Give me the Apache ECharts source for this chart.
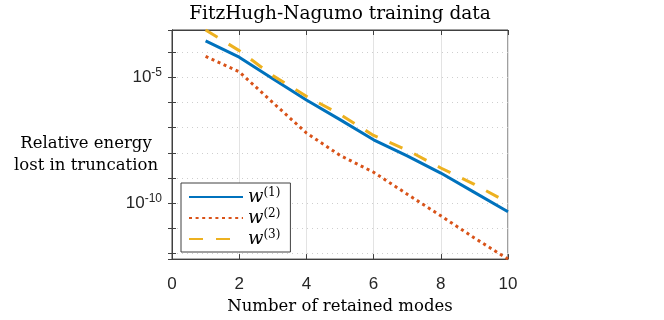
<!DOCTYPE html>
<html>
<head>
<meta charset="utf-8">
<script src="https://cdn.jsdelivr.net/npm/echarts@6/dist/echarts.min.js"></script>
<style>html,body{margin:0;padding:0;background:#fff}#c{width:664px;height:320px}</style>
</head>
<body>
<div id="c"></div>
<script>
// ---- data ----
const modes = [1, 2, 3, 4, 5, 6, 7, 8, 9, 10];
const w1 = [2.82e-4, 6.31e-5, 8.71e-6, 1.26e-6, 2.09e-7, 3.31e-8, 7.59e-9, 1.58e-9, 2.69e-10, 4.57e-11];
const w2 = [6.76e-5, 1.66e-5, 1.0e-6, 6.17e-8, 7.94e-9, 1.70e-9, 2.29e-10, 3.16e-11, 4.17e-12, 6.03e-13];
const w3 = [7.59e-4, 1.15e-4, 1.17e-5, 1.78e-6, 3.39e-7, 4.90e-8, 1.29e-8, 2.51e-9, 5.62e-10, 1.05e-10];
const seriesNames = ['w1', 'w2', 'w3'];
const legendSup = ['(1)', '(2)', '(3)'];
const xTickLabels = [0, 2, 4, 6, 8, 10];
const yLabelExps = [-5, -10];
const yMajorGrid = [1e-5, 1e-10];

const titleText = 'FitzHugh-Nagumo training data';
const xName = 'Number of retained modes';
const yName = 'Relative energy\nlost in truncation';

const allVals = w1.concat(w2, w3);
const yMin = Math.min.apply(null, allVals);
const yMax = Math.max.apply(null, allVals);

const serif = '"DejaVu Serif", serif';
const sans = '"Liberation Sans", Arial, sans-serif';
const axisColor = '#404040';
const textColor = '#262626';

const chart = echarts.init(document.getElementById('c'), null, {renderer: 'canvas'});

function pairs(ys) { return modes.map((x, i) => [x, ys[i]]); }

const yLabelRich = {
  b: {fontFamily: sans, fontSize: 17, color: textColor, lineHeight: 22},
  s: {fontFamily: sans, fontSize: 12, color: textColor, verticalAlign: 'top', lineHeight: 12}
};

const option = {
  animation: false,
  backgroundColor: '#fff',
  grid: {left: 172, right: 156, top: 30, bottom: 54, show: true, borderColor: axisColor, borderWidth: 1, backgroundColor: 'transparent'},
  graphic: [
    {type: 'text', x: 340, y: 14, style: {text: titleText, font: '18.5px ' + serif, fill: '#000', align: 'center', verticalAlign: 'middle'}},
    {type: 'text', x: 86, y: 155, style: {text: yName, font: '16.5px ' + serif, fill: '#000', align: 'center', verticalAlign: 'middle', lineHeight: 22}}
  ],
  legend: {
    orient: 'vertical',
    left: 181, top: 183,
    width: 107,
    padding: [4, 10, 4, 7],
    itemWidth: 54, itemHeight: 14, itemGap: 2,
    backgroundColor: '#fff',
    borderColor: axisColor, borderWidth: 1, borderRadius: 0,
    data: seriesNames,
    itemStyle: {color: 'transparent', borderColor: 'transparent', borderWidth: 0, opacity: 0},
    formatter: function (name) { return '{w|w}{s|' + legendSup[seriesNames.indexOf(name)] + '}'; },
    textStyle: {
      rich: {
        w: {fontFamily: serif, fontStyle: 'italic', fontSize: 18, color: '#000', lineHeight: 20},
        s: {fontFamily: serif, fontSize: 12, color: '#000', verticalAlign: 'top', lineHeight: 12}
      }
    }
  },
  xAxis: [{
    type: 'value', min: 0, max: 10, interval: 2,
    name: xName, nameLocation: 'middle', nameGap: 38,
    nameTextStyle: {fontFamily: serif, fontSize: 16.5, color: '#000'},
    axisLine: {show: true, lineStyle: {color: axisColor}},
    axisTick: {show: true, inside: true, length: 5, lineStyle: {color: axisColor}},
    minorTick: {show: false},
    axisLabel: {fontFamily: sans, fontSize: 17, color: textColor, margin: 17,
      formatter: v => xTickLabels.indexOf(v) >= 0 ? String(v) : ''},
    splitLine: {show: true, lineStyle: {color: '#e3e3e3', width: 1}}
  }, {
    type: 'value', min: 0, max: 10, interval: 2, position: 'top',
    axisLine: {show: true, lineStyle: {color: axisColor}},
    axisTick: {show: true, inside: true, length: 5, lineStyle: {color: axisColor}},
    minorTick: {show: false},
    axisLabel: {show: false}, splitLine: {show: false}
  }],
  yAxis: [{
    type: 'log', logBase: 10, min: yMin, max: yMax,
    axisLine: {show: true, lineStyle: {color: axisColor}},
    axisTick: {show: true, inside: true, length: 4, lineStyle: {color: axisColor}},
    minorTick: {show: false}, minorSplitLine: {show: false},
    axisLabel: {margin: 10, showMinLabel: false, showMaxLabel: false,
      formatter: function (v) {
        const e = Math.round(Math.log10(v));
        if (Math.abs(Math.log10(v) - e) > 1e-6) return '';
        return yLabelExps.indexOf(e) >= 0 ? '{b|10}{s|' + e + '}' : '';
      },
      rich: yLabelRich},
    splitLine: {show: true, lineStyle: {color: '#cfcfcf', type: [1, 4], width: 1}}
  }, {
    type: 'log', logBase: 10, min: yMin, max: yMax, position: 'right',
    axisLine: {show: true, lineStyle: {color: axisColor}},
    axisTick: {show: true, inside: true, length: 4, lineStyle: {color: axisColor}},
    minorTick: {show: false}, minorSplitLine: {show: false},
    axisLabel: {show: false}, splitLine: {show: false}
  }],
  series: [
    {
      name: 'gridMajor', type: 'line', data: [], z: 1, silent: true,
      markLine: {silent: true, symbol: 'none', label: {show: false},
        lineStyle: {color: '#e3e3e3', type: 'solid', width: 1},
        data: yMajorGrid.map(v => ({yAxis: v}))}
    },
    {name: 'w1', type: 'line', data: pairs(w1), symbol: 'none', z: 3,
      lineStyle: {color: '#0072BD', width: 3, type: 'solid'}, itemStyle: {color: '#0072BD'}},
    {name: 'w2', type: 'line', data: pairs(w2), symbol: 'none', z: 3,
      lineStyle: {color: '#D95319', width: 3, type: [3, 3.6]}, itemStyle: {color: '#D95319'}},
    {name: 'w3', type: 'line', data: pairs(w3), symbol: 'none', z: 3,
      lineStyle: {color: '#EDB120', width: 3, type: [14, 13]}, itemStyle: {color: '#EDB120'}}
  ]
};
chart.setOption(option);
</script>
</body>
</html>
